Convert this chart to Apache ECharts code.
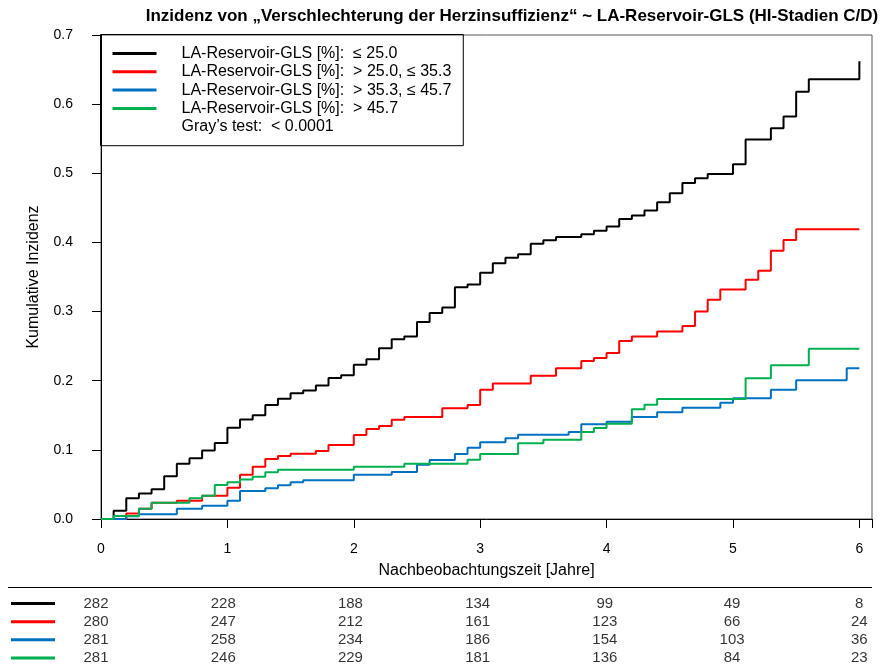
<!DOCTYPE html>
<html>
<head>
<meta charset="utf-8">
<script src="https://cdn.jsdelivr.net/npm/echarts@6/dist/echarts.min.js"></script>
<style>html,body{margin:0;padding:0;background:#fff}#c{width:882px;height:670px}</style>
</head>
<body>
<div id="c"></div>
<script>
// ---------- data ----------
const titleText = 'Inzidenz von „Verschlechterung der Herzinsuffizienz“ ~ LA-Reservoir-GLS (HI-Stadien C/D)';
const seriesNames = [
  'LA-Reservoir-GLS [%]:  ≤ 25.0',
  'LA-Reservoir-GLS [%]:  > 25.0, ≤ 35.3',
  'LA-Reservoir-GLS [%]:  > 35.3, ≤ 45.7',
  'LA-Reservoir-GLS [%]:  > 45.7'
];
const testText = 'Gray’s test:  < 0.0001';
const seriesColors = ['#000000', '#ff0000', '#0070c0', '#00b050'];

const blackT = [0, 0.1, 0.2, 0.3, 0.4, 0.5, 0.6, 0.7, 0.8, 0.9, 1.0, 1.1, 1.2, 1.3, 1.4, 1.5, 1.6, 1.7, 1.8, 1.9, 2.0, 2.1, 2.2, 2.3, 2.4, 2.5, 2.6, 2.7, 2.8, 2.9, 3.0, 3.1, 3.2, 3.3, 3.4, 3.5, 3.6, 3.8, 3.9, 4.0, 4.1, 4.2, 4.3, 4.4, 4.5, 4.6, 4.7, 4.8, 5.0, 5.1, 5.3, 5.4, 5.5, 5.6, 6.0];
const blackY = [0, 0.012, 0.030, 0.037, 0.043, 0.062, 0.080, 0.088, 0.099, 0.110, 0.132, 0.144, 0.150, 0.165, 0.174, 0.182, 0.186, 0.193, 0.204, 0.208, 0.223, 0.231, 0.247, 0.260, 0.264, 0.285, 0.298, 0.306, 0.335, 0.339, 0.356, 0.370, 0.378, 0.383, 0.398, 0.403, 0.408, 0.412, 0.417, 0.423, 0.434, 0.439, 0.446, 0.458, 0.471, 0.486, 0.493, 0.499, 0.513, 0.549, 0.565, 0.582, 0.618, 0.636, 0.662];

const redT = [0, 0.2, 0.3, 0.4, 0.6, 0.8, 1.0, 1.1, 1.2, 1.3, 1.4, 1.5, 1.7, 1.8, 2.0, 2.1, 2.2, 2.3, 2.4, 2.7, 2.9, 3.0, 3.1, 3.4, 3.6, 3.8, 3.9, 4.0, 4.1, 4.2, 4.4, 4.6, 4.7, 4.8, 4.9, 5.1, 5.2, 5.3, 5.4, 5.5, 6.0];
const redY = [0, 0.008, 0.015, 0.0236, 0.0265, 0.0337, 0.0453, 0.064, 0.0757, 0.0868, 0.091, 0.0945, 0.0983, 0.107, 0.1215, 0.130, 0.1345, 0.1437, 0.1475, 0.160, 0.165, 0.187, 0.196, 0.207, 0.218, 0.2285, 0.233, 0.240, 0.2575, 0.264, 0.271, 0.279, 0.300, 0.317, 0.332, 0.346, 0.359, 0.388, 0.4035, 0.419, 0.419];

const blueT = [0, 0.2, 0.3, 0.6, 0.8, 1.0, 1.1, 1.3, 1.4, 1.5, 1.6, 2.0, 2.3, 2.5, 2.6, 2.8, 2.9, 3.0, 3.2, 3.3, 3.7, 3.8, 4.0, 4.2, 4.4, 4.6, 4.9, 5.0, 5.3, 5.5, 5.9, 6.0];
const blueY = [0, 0.004, 0.007, 0.015, 0.019, 0.0265, 0.0405, 0.0444, 0.0487, 0.053, 0.056, 0.064, 0.068, 0.0786, 0.0853, 0.094, 0.103, 0.111, 0.1167, 0.122, 0.1258, 0.137, 0.1408, 0.1475, 0.1543, 0.161, 0.168, 0.1745, 0.187, 0.2006, 0.218, 0.218];

const greenT = [0, 0.1, 0.3, 0.4, 0.7, 0.8, 0.9, 1.0, 1.1, 1.2, 1.3, 1.4, 2.0, 2.4, 2.9, 3.0, 3.3, 3.5, 3.8, 3.9, 4.0, 4.2, 4.3, 4.4, 5.1, 5.3, 5.6, 6.0];
const greenY = [0, 0.0043, 0.015, 0.0236, 0.030, 0.0337, 0.049, 0.053, 0.057, 0.061, 0.0675, 0.0713, 0.0757, 0.080, 0.0858, 0.094, 0.1095, 0.1147, 0.1258, 0.1316, 0.1378, 0.1586, 0.1653, 0.1736, 0.2035, 0.2223, 0.2463, 0.2463];

const riskTimes = [0, 1, 2, 3, 4, 5, 6];
const riskBlack = [282, 228, 188, 134, 99, 49, 8];
const riskRed = [280, 247, 212, 161, 123, 66, 24];
const riskBlue = [281, 258, 234, 186, 154, 103, 36];
const riskGreen = [281, 246, 229, 181, 136, 84, 23];

const xTicks = [0, 1, 2, 3, 4, 5, 6];
const yTicks = [0, 0.1, 0.2, 0.3, 0.4, 0.5, 0.6, 0.7];

// ---------- build ----------
const FONT = 'Liberation Sans, Arial, sans-serif';
const curvesT = [blackT, redT, blueT, greenT];
const curvesY = [blackY, redY, blueY, greenY];
const riskRows = [riskBlack, riskRed, riskBlue, riskGreen];
const rowKeys = ['r0', 'r1', 'r2', 'r3'];

const zip = (a, b) => a.map((v, i) => [v, b[i]]);

const series = curvesT.map((t, i) => ({
  name: seriesNames[i],
  type: 'line',
  step: 'end',
  xAxisIndex: 0, yAxisIndex: 0,
  data: zip(t, curvesY[i]),
  showSymbol: false,
  symbol: 'none',
  lineStyle: { color: seriesColors[i], width: 2 },
  itemStyle: { color: seriesColors[i] },
  z: 3 + i,
  silent: true
}));
series.push({
  name: testText, type: 'line', data: [], symbol: 'none',
  lineStyle: { opacity: 0 }, itemStyle: { opacity: 0 }
});
riskRows.forEach((row, i) => {
  series.push({
    type: 'scatter',
    xAxisIndex: 1, yAxisIndex: 1,
    data: row.map((v, j) => [riskTimes[j], rowKeys[i], v]),
    symbolSize: 0.1,
    itemStyle: { color: 'rgba(0,0,0,0)' },
    label: {
      show: true, position: 'inside', color: '#000',
      fontFamily: FONT, fontSize: 15,
      formatter: p => String(p.value[2])
    },
    silent: true
  });
});

const rich = {};
rowKeys.forEach((k, i) => { rich[k] = { width: 44, height: 3, backgroundColor: seriesColors[i] }; });

const option = {
  animation: false,
  backgroundColor: '#fff',
  textStyle: { fontFamily: FONT },
  title: {
    text: titleText,
    left: 512, top: 8, textAlign: 'center',
    padding: 0,
    textStyle: { fontFamily: FONT, fontSize: 17, fontWeight: 'bold', color: '#000' }
  },
  legend: {
    orient: 'vertical',
    left: 100.5, top: 34.5,
    align: 'left',
    selectedMode: false,
    borderColor: '#000', borderWidth: 1,
    padding: [11, 12, 11, 12],
    itemWidth: 44, itemHeight: 16, itemGap: 2.3,
    textStyle: { fontFamily: FONT, fontSize: 16, color: '#000', padding: [0, 0, 0, 20], lineHeight: 16 },
    data: seriesNames.map((n, i) => ({ name: n, icon: 'path://M0,0L44,0L44,3L0,3Z', itemStyle: { color: seriesColors[i] } }))
      .concat([{ name: testText, icon: 'none', itemStyle: { opacity: 0 } }])
  },
  grid: [
    { left: 101, right: 10, top: 35, bottom: 670 - 519, show: true, borderColor: '#555', borderWidth: 1, backgroundColor: 'transparent' },
    { left: 96, right: 10, top: 594.5, height: 72.5 }
  ],
  xAxis: [
    {
      type: 'value', gridIndex: 0, min: 0, max: 6.1, interval: 1,
      name: 'Nachbeobachtungszeit [Jahre]', nameLocation: 'middle', nameGap: 44,
      nameMoveOverlap: false,
      nameTextStyle: { fontFamily: FONT, fontSize: 16, color: '#000' },
      axisLine: { show: true, onZero: false, lineStyle: { color: '#000', width: 1 } },
      axisTick: { show: true, length: 9, lineStyle: { color: '#000' } },
      axisLabel: { show: true, margin: 23, fontFamily: FONT, fontSize: 14, color: '#000',
        formatter: v => (xTicks.indexOf(v) >= 0 ? String(v) : '') },
      splitLine: { show: false }
    },
    {
      type: 'value', gridIndex: 1, min: 0, max: 6.1, show: false
    }
  ],
  yAxis: [
    {
      type: 'value', gridIndex: 0, min: 0, max: 0.7, interval: 0.1,
      name: 'Kumulative Inzidenz', nameLocation: 'middle', nameGap: 59,
      nameMoveOverlap: false,
      nameTextStyle: { fontFamily: FONT, fontSize: 16, color: '#000' },
      axisLine: { show: true, onZero: false, lineStyle: { color: '#000', width: 1 } },
      axisTick: { show: true, length: 9, lineStyle: { color: '#000' } },
      axisLabel: { margin: 28, fontFamily: FONT, fontSize: 14, color: '#000',
        formatter: v => { const k = yTicks.findIndex(t => Math.abs(t - v) < 1e-9); return k >= 0 ? yTicks[k].toFixed(1) : ''; } },
      splitLine: { show: false }
    },
    {
      type: 'category', gridIndex: 1, inverse: true, data: rowKeys,
      axisLine: { show: false }, axisTick: { show: false }, splitLine: { show: false },
      axisLabel: { show: true, margin: 41, formatter: v => '{' + v + '|}', rich: rich }
    }
  ],
  graphic: [
    { type: 'line', shape: { x1: 8, y1: 587.5, x2: 872, y2: 587.5 }, style: { stroke: '#000', lineWidth: 1 }, silent: true }
  ],
  series: series
};

const chart = echarts.init(document.getElementById('c'), null, { renderer: 'canvas' });
chart.setOption(option);
</script>
</body>
</html>
